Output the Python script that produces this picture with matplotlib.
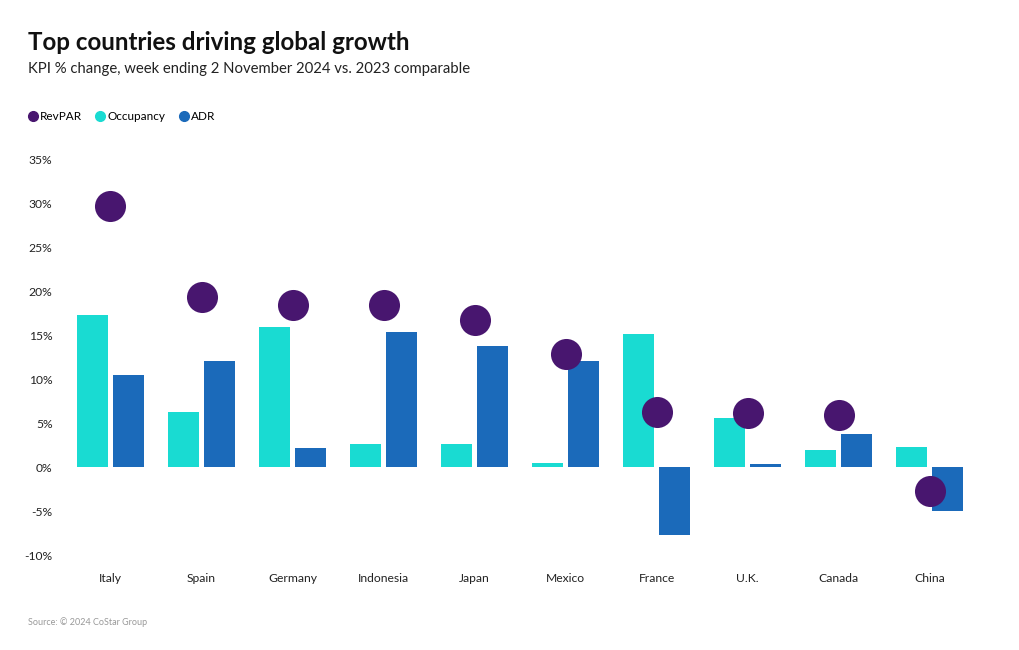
import matplotlib
matplotlib.use("Agg")
import matplotlib.pyplot as plt
from matplotlib.lines import Line2D
import numpy as np

countries = ["Italy", "Spain", "Germany", "Indonesia", "Japan", "Mexico",
             "France", "U.K.", "Canada", "China"]
revpar = [29.7, 19.3, 18.4, 18.4, 16.7, 12.8, 6.3, 6.1, 5.9, -2.7]
occupancy = [17.3, 6.3, 15.9, 2.6, 2.6, 0.5, 15.1, 5.6, 1.9, 2.3]
adr = [10.5, 12.1, 2.2, 15.3, 13.8, 12.1, -7.7, 0.3, 3.8, -5.0]
yticks = [-10, -5, 0, 5, 10, 15, 20, 25, 30, 35]

C_REV = "#48166f"
C_OCC = "#19dbd2"
C_ADR = "#1b6aba"

plt.rcParams['font.family'] = ['Lato', 'DejaVu Sans']

fig = plt.figure(figsize=(10.2, 6.5), dpi=100)
ax = fig.add_axes([65/1020, 1-568.2/650, 910/1020, (568.2-145.8)/650])

x = np.arange(len(countries))
w = 0.345
off = 0.198
ax.bar(x - off, occupancy, width=w, color=C_OCC, zorder=2)
ax.bar(x + off, adr, width=w, color=C_ADR, zorder=2)
ax.scatter(x, revpar, s=500, color=C_REV, zorder=3, linewidths=0)

ax.set_xlim(-0.5, len(countries) - 0.5)
ax.set_ylim(-11.5, 36.5)
ax.set_yticks(yticks)
ax.set_yticklabels([f"{t}%" for t in yticks])
ax.set_xticks(x)
ax.set_xticklabels(countries)
ax.tick_params(axis='both', length=0, labelsize=8.7, colors="#222222")
ax.tick_params(axis='y', pad=9)
ax.tick_params(axis='x', pad=3.5)
for s in ax.spines.values():
    s.set_visible(False)

fig.text(28/1020, 1-43/650, "Top countries driving global growth", fontsize=17.4,
         fontweight='bold', va='center', ha='left', color="#111111")
fig.text(28/1020, 1-69/650, "KPI % change, week ending 2 November 2024 vs. 2023 comparable",
         fontsize=10.75, va='center', ha='left', color="#222222")

handles = [Line2D([], [], marker='o', linestyle='none', markersize=7, color=c)
           for c in (C_REV, C_OCC, C_ADR)]
fig.legend(handles, ["RevPAR", "Occupancy", "ADR"], loc='center left',
           bbox_to_anchor=(27/1020, 1-116.5/650), ncol=3, frameon=False,
           fontsize=8.5, handletextpad=0.1, columnspacing=1.05, handlelength=1.0,
           borderaxespad=0, borderpad=0)

fig.text(28/1020, 1-622/650, "Source: © 2024 CoStar Group", fontsize=6.5,
         color="#999999", va='center', ha='left')

fig.savefig("out.png", dpi=100)
